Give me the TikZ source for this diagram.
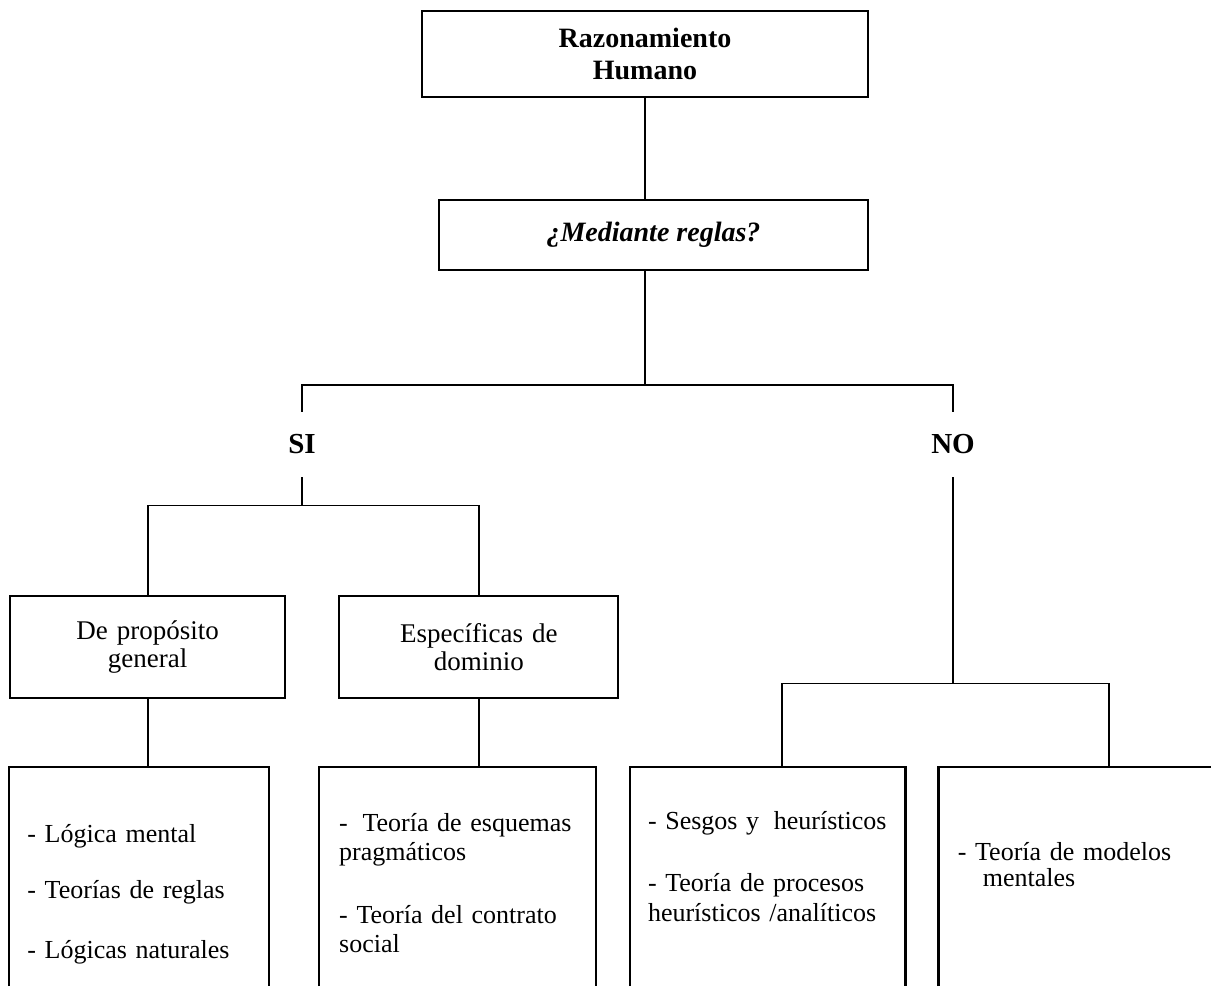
\documentclass[tikz,border=0pt]{standalone}
\usepackage{fontspec}
\setmainfont{Liberation Serif}
\usetikzlibrary{positioning, calc}
\hyphenpenalty=10000
\tikzset{
  rootbox/.style={rectangle, draw=black, line width=1.1pt, align=center,
    minimum width=223pt, minimum height=43pt, inner sep=0pt,
    font=\fontsize{14}{16}\selectfont\bfseries},
  askbox/.style={rectangle, draw=black, line width=1.1pt, align=center,
    minimum width=214.5pt, minimum height=35pt, inner sep=0pt,
    font=\fontsize{14}{16}\selectfont\bfseries\itshape},
  kindbox/.style={rectangle, draw=black, line width=1.1pt, align=center,
    minimum height=51pt, inner sep=0pt,
    font=\fontsize{13.5}{14}\selectfont},
  listbox/.style={rectangle, align=left, inner xsep=9pt, inner ysep=26pt,
    font=\fontsize{13}{15}\selectfont},
  answer/.style={inner sep=0pt, minimum height=32.5pt,
    font=\fontsize{14.5}{16}\selectfont\bfseries},
  line/.style={line width=0.9pt, color=black},
  frame/.style={line width=1.1pt, color=black, line join=miter}
}
\begin{document}
\begin{tikzpicture}
  \useasboundingbox (0,0) rectangle (605.5pt,-493pt);
  \coordinate (floor) at (0,-493pt);

  % Root and question
  \node[rootbox] (root) at (322.5pt,-27pt) {Razonamiento\\Humano};
  \node[askbox, below=50.5pt of root, xshift=4.25pt] (ask) {¿Mediante reglas?};

  % Answers
  \node[answer] (si) at (151pt,-222.25pt) {SI};
  \node[answer] (no) at (476.5pt,-222.25pt) {NO};
  \coordinate (fork) at (322.5pt,-192.5pt);

  % Rule based kinds
  \node[kindbox, text width=137.5pt, anchor=north west] (gen) at (4.5pt,-297.5pt) {De propósito\\general};
  \node[kindbox, text width=139.5pt, right=26pt of gen] (dom) {Específicas de\\dominio};

  % Theories
  \node[listbox, text width=111.5pt, inner xsep=9pt, inner ysep=28.5pt,
    below=34pt of gen.south west, anchor=north west] (logic)
    {- Lógica mental\\[13pt]- Teorías de reglas\\[15pt]- Lógicas naturales};
  \node[listbox, text width=118pt, inner xsep=10pt, inner ysep=23pt,
    right=25pt of logic.north east, anchor=north west] (prag)
    {-\hspace{3pt} Teoría de esquemas\\[-0.5pt]pragmáticos\\[16.5pt]- Teoría del contrato\\[-0.5pt]social};
  \node[listbox, text width=119.5pt, inner xsep=9pt, inner ysep=22pt,
    right=17pt of prag.north east, anchor=north west] (heur)
    {- Sesgos y\hspace{3pt} heurísticos\\[16pt]- Teoría de procesos\\heurísticos /analíticos};
  \node[listbox, text width=118.5pt, inner xsep=9.5pt, inner ysep=37.5pt,
    right=16.5pt of heur.north east, anchor=north west] (models)
    {- Teoría de modelos\\[-2pt]\hspace*{12.5pt}mentales};

  % Open boxes round the theories
  \draw[frame] (logic.west |- floor) -- (logic.north west) -- (logic.north east) -- (logic.east |- floor);
  \draw[frame] (prag.west |- floor) -- (prag.north west) -- (prag.north east) -- (prag.east |- floor);
  \draw[frame] (heur.west |- floor) -- (heur.north west) -- (heur.north east) -- (heur.east |- floor);
  \draw[frame] (models.west |- floor) -- (models.north west) -- (models.north east);

  % Connectors
  \draw[line] (root.south) -- (root.south |- ask.north);
  \draw[line] (root.south |- ask.south) -- (fork);
  \draw[line] (si.north) |- (fork) -| (no.north);
  \draw[line] (si.south) -- ++(0,-14pt) coordinate (sifork);
  \draw[line] (gen.north) |- (sifork) -| (dom.north);
  \draw[line] (gen.south) -- (gen.south |- logic.north);
  \draw[line] (dom.south) -- (dom.south |- prag.north);
  \draw[line] (no.south) -- ++(0,-103pt) coordinate (nofork);
  \coordinate (noleft) at ([xshift=-85.5pt]nofork);
  \coordinate (noright) at ([xshift=78pt]nofork);
  \draw[line] (noleft |- heur.north) |- (nofork) -| (noright |- models.north);
\end{tikzpicture}
\end{document}
